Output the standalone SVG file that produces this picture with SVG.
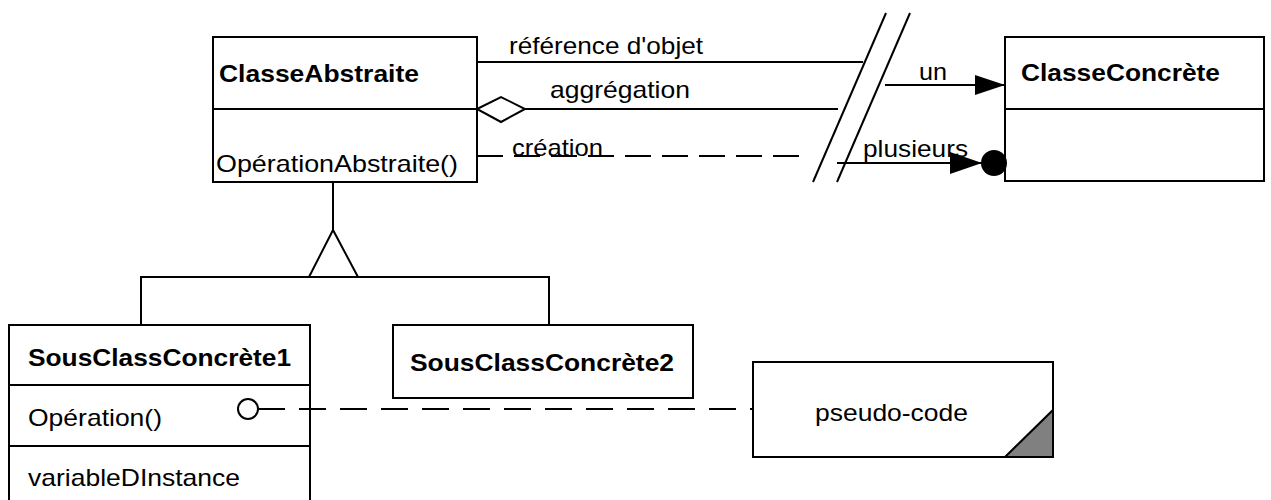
<svg xmlns="http://www.w3.org/2000/svg" width="1271" height="500" viewBox="0 0 1271 500">
<style>
.box{fill:#fff;stroke:#000;stroke-width:2}
.ln{fill:none;stroke:#000;stroke-width:2}
.dash{fill:none;stroke:#000;stroke-width:2;stroke-dasharray:26 11}
.dash2{fill:none;stroke:#000;stroke-width:2;stroke-dasharray:27 14}
text{font-family:"Liberation Sans",Arial,Helvetica,sans-serif;font-size:24px;fill:#000}
.b{font-weight:bold}
</style>
<defs>
<marker id="arr" viewBox="0 0 30 20" refX="30" refY="10" markerWidth="30" markerHeight="20" markerUnits="userSpaceOnUse" orient="auto">
<path d="M0,0 L30,10 L0,20 Z" fill="#000"/>
</marker>
<marker id="arr2" viewBox="0 0 32 22" refX="32" refY="11" markerWidth="32" markerHeight="22" markerUnits="userSpaceOnUse" orient="auto">
<path d="M0,0 L32,11 L0,22 Z" fill="#000"/>
</marker>
</defs>
<rect width="1271" height="500" fill="#fff"/>

<g id="ClasseAbstraite">
<rect class="box" x="213" y="37" width="264" height="145"/>
<line class="ln" x1="213" y1="109" x2="477" y2="109"/>
<text class="b" x="219" y="82" textLength="200" lengthAdjust="spacingAndGlyphs">ClasseAbstraite</text>
<text x="216" y="172" textLength="242" lengthAdjust="spacingAndGlyphs">OpérationAbstraite()</text>
</g>

<g id="ClasseConcrete">
<rect class="box" x="1005" y="37" width="259" height="144"/>
<line class="ln" x1="1005" y1="109" x2="1264" y2="109"/>
<text class="b" x="1021" y="81" textLength="199" lengthAdjust="spacingAndGlyphs">ClasseConcrète</text>
</g>

<g id="SousClassConcrete1">
<rect class="box" x="9" y="325" width="301" height="200"/>
<line class="ln" x1="9" y1="385" x2="310" y2="385"/>
<line class="ln" x1="9" y1="446" x2="310" y2="446"/>
<text class="b" x="28" y="366" textLength="263" lengthAdjust="spacingAndGlyphs">SousClassConcrète1</text>
<text x="28" y="426" textLength="134" lengthAdjust="spacingAndGlyphs">Opération()</text>
<text x="28" y="486" textLength="212" lengthAdjust="spacingAndGlyphs">variableDInstance</text>
</g>

<g id="SousClassConcrete2">
<rect class="box" x="393" y="325" width="300" height="73"/>
<text class="b" x="410" y="371" textLength="264" lengthAdjust="spacingAndGlyphs">SousClassConcrète2</text>
</g>

<g id="pseudocode">
<rect class="box" x="753" y="362" width="300" height="95"/>
<polygon points="1005,457 1053,410 1053,457" fill="#808080" stroke="#000" stroke-width="2"/>
<text x="815" y="421" textLength="153" lengthAdjust="spacingAndGlyphs">pseudo-code</text>
</g>

<g id="connectors">
<line class="ln" x1="477" y1="62" x2="863" y2="62"/>
<text x="509" y="54" textLength="194" lengthAdjust="spacingAndGlyphs">référence d'objet</text>
<polygon points="477,109 501,97 525,109 501,122" fill="#fff" stroke="#000" stroke-width="2"/>
<line class="ln" x1="525" y1="109" x2="838" y2="109"/>
<text x="550" y="98" textLength="140" lengthAdjust="spacingAndGlyphs">aggrégation</text>
<line class="dash" x1="477" y1="156" x2="803" y2="156"/>
<text x="512" y="156" textLength="91" lengthAdjust="spacingAndGlyphs">création</text>
<line class="ln" x1="886" y1="13" x2="813" y2="182"/>
<line class="ln" x1="910" y1="13" x2="837" y2="182"/>
<line class="ln" x1="885" y1="85" x2="1005" y2="85" marker-end="url(#arr)"/>
<text x="919" y="80" textLength="28" lengthAdjust="spacingAndGlyphs">un</text>
<line class="ln" x1="837" y1="163" x2="982" y2="163" marker-end="url(#arr2)"/>
<circle cx="994" cy="163" r="13" fill="#000"/>
<text x="863" y="157" textLength="105" lengthAdjust="spacingAndGlyphs">plusieurs</text>
<line class="ln" x1="333" y1="182" x2="333" y2="230"/>
<polygon points="333,230 309,277 358,277" fill="#fff" stroke="#000" stroke-width="2"/>
<polyline class="ln" points="141,325 141,277 549,277 549,325"/>
<circle cx="248" cy="409" r="10" fill="#fff" stroke="#000" stroke-width="2"/>
<line class="dash2" x1="258" y1="409" x2="753" y2="409"/>
</g>
</svg>
